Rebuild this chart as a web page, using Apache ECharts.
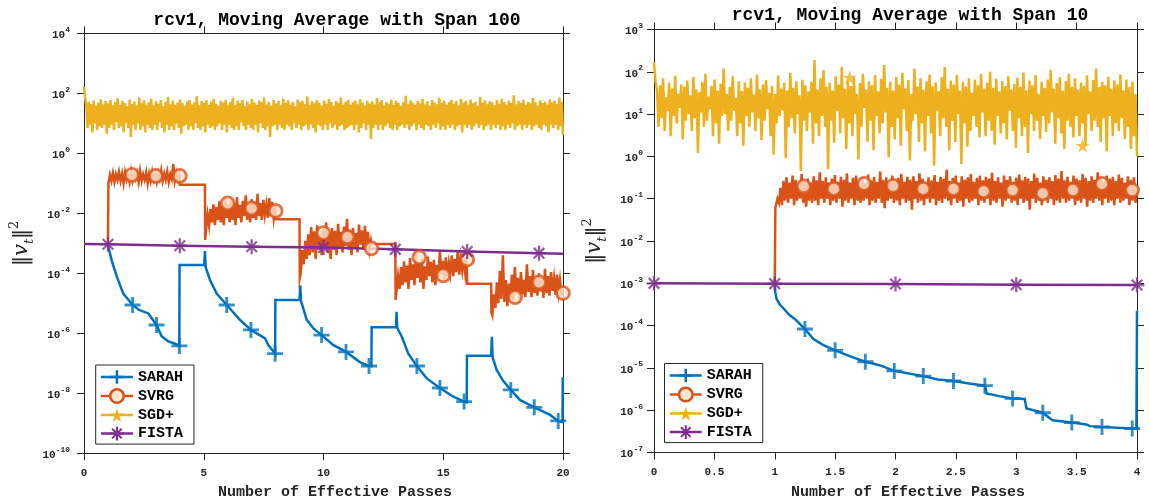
<!DOCTYPE html>
<html><head><meta charset="utf-8">
<script src="https://cdn.jsdelivr.net/npm/echarts@6.0.0/dist/echarts.min.js"></script>
<style>html,body{margin:0;padding:0;background:#fff}#c{width:1149px;height:502px}</style>
</head><body><div id="c"></div>
<script>
// ---------------- DATA ----------------
const seriesNames = ['SARAH', 'SVRG', 'SGD+', 'FISTA'];
const titleLeft = 'rcv1, Moving Average with Span 100';
const titleRight = 'rcv1, Moving Average with Span 10';
const xName = 'Number of Effective Passes';

// Left panel (span 100), x = effective passes 0..20
const sarahL = [[1.0,9e-4],[1.05,6e-4],[1.15,2.8e-4],[1.37,7.7e-5],[1.64,2.1e-5],[2.03,8.8e-6],[2.3,6e-6],[2.69,4.6e-6],[2.85,3e-6],[3.03,1.9e-6],[3.24,8e-7],[3.5,5.5e-7],[3.8,4.5e-7],[3.98,3.8e-7],[3.99,1.9e-4],[5.02,1.9e-4],[5.05,5.5e-4],[5.08,1.6e-4],[5.26,6e-5],[5.54,2.1e-5],[5.96,8.8e-6],[6.51,2.8e-6],[6.97,1.3e-6],[7.3,9e-7],[7.56,6.8e-7],[7.7,4e-7],[7.98,2.1e-7],[7.99,1.3e-5],[9.0,1.3e-5],[9.03,4e-5],[9.06,1.2e-5],[9.3,2.8e-6],[9.6,1.4e-6],[9.92,8.7e-7],[10.4,4.1e-7],[10.94,2.4e-7],[11.52,1.1e-7],[11.9,8.1e-8],[12.0,8e-8],[12.01,1.6e-6],[13.03,1.6e-6],[13.05,5.2e-6],[13.08,1.5e-6],[13.27,7.7e-7],[13.54,2.1e-7],[13.9,8.1e-8],[14.3,3.2e-8],[14.86,1.5e-8],[15.42,7.7e-9],[15.87,5.3e-9],[15.98,5e-9],[15.99,1.8e-7],[17.0,1.8e-7],[17.03,7.7e-7],[17.06,1.6e-7],[17.23,6e-8],[17.5,2.6e-8],[17.82,1.3e-8],[18.2,6e-9],[18.8,3.4e-9],[19.46,1.9e-9],[19.8,1.2e-9],[19.98,1.1e-9],[19.99,3.4e-8]];
const sarahLMarks = [[2.03,8.8e-6],[3.03,1.9e-6],[3.98,3.8e-7],[5.96,8.8e-6],[6.97,1.3e-6],[7.98,2.1e-7],[9.92,8.7e-7],[10.94,2.4e-7],[11.9,8.1e-8],[13.9,8.1e-8],[14.86,1.5e-8],[15.87,5.3e-9],[17.82,1.3e-8],[18.8,3.4e-9],[19.8,1.2e-9]];

// SVRG: step pieces plus noisy stretches
const svrgLSteps = [[1.0,9e-4],[4.0,0.09],[5.05,0.09],[5.06,1.3e-3],[8.0,6.3e-3],[9.0,6.3e-3],[9.01,7e-5],[12.0,9.5e-4],[13.0,9.5e-4],[13.01,1.3e-5],[16.0,4.5e-5],[17.0,4.5e-5],[17.01,5e-6]];
const svrgLNoise1 = [0.1,0.19,0.12,0.22,0.11,0.2,0.13,0.24,0.12,0.21,0.1,0.23,0.13,0.19,0.11,0.25,0.12,0.2,0.14,0.22,0.11,0.26,0.12,0.2,0.13,0.23,0.1,0.21,0.12,0.24,0.13,0.2,0.11,0.22,0.14,0.27,0.12,0.21,0.13,0.24,0.11,0.2,0.14,0.44,0.12,0.22,0.13,0.19];
const svrgLNoise2 = [0.003,0.009,0.004,0.014,0.005,0.02,0.004,0.016,0.006,0.025,0.005,0.018,0.004,0.03,0.007,0.02,0.005,0.028,0.006,0.022,0.004,0.035,0.007,0.019,0.005,0.026,0.008,0.04,0.006,0.021,0.005,0.03,0.007,0.024,0.006,0.045,0.008,0.022,0.006,0.028,0.009,0.02,0.007,0.032,0.008,0.024,0.007,0.018];
const svrgLNoise3 = [1e-4,6e-4,2e-4,1.2e-3,3e-4,2e-3,4e-4,3.5e-3,5e-4,2.5e-3,3e-4,4e-3,6e-4,2e-3,4e-4,3e-3,7e-4,5e-3,5e-4,2.2e-3,3e-4,3.2e-3,6e-4,2.6e-3,4e-4,4.5e-3,7e-4,2.4e-3,5e-4,3.6e-3,8e-4,6.5e-3,6e-4,2.8e-3,4e-4,3.3e-3,7e-4,2.2e-3,5e-4,4.2e-3,9e-4,2.7e-3,6e-4,3.8e-3,8e-4,2.4e-3,6e-4,1.2e-3];
const svrgLNoise4 = [1.5e-5,8e-5,3e-5,1.6e-4,4e-5,2.5e-4,5e-5,1.8e-4,3e-5,3.2e-4,6e-5,2e-4,4e-5,4.5e-4,7e-5,2.2e-4,5e-5,3e-4,3e-5,1.7e-4,6e-5,3.6e-4,8e-5,2.4e-4,5e-5,2.8e-4,4e-5,1.9e-4,7e-5,5.5e-4,9e-5,2.6e-4,6e-5,3.4e-4,8e-5,2.2e-4,1e-4,4e-4,8e-5,3e-4,1.1e-4,6e-4,9e-5,3.2e-4,1.2e-4,2.8e-4,1e-4,3.5e-4];
const svrgLNoise5 = [4e-6,2e-5,7e-6,5e-5,1e-5,1.2e-4,1.4e-5,4e-4,1.1e-5,6e-5,8e-6,4.5e-5,1.6e-5,9e-5,1.2e-5,1.6e-4,2e-5,7e-5,1.4e-5,1.1e-4,2e-5,6e-5,1.6e-5,2e-4,2.4e-5,8e-5,1.6e-5,1.3e-4,2.2e-5,6.5e-5,1.8e-5,1e-4,2.5e-5,7e-5,1.5e-5,1.4e-4,2.2e-5,8e-5,1.8e-5,1.1e-4,2.6e-5,7e-5,1.9e-5,9e-5,2.3e-5,6e-5,2e-5,3e-5];
const svrgLNoiseRanges = [[1.02,3.98],[5.1,7.98],[9.05,11.98],[13.05,15.98],[17.05,20.0]];
const svrgLMarks = [[2,0.19],[3,0.176],[4,0.176],[6,0.0215],[7,0.0147],[8,0.012],[10,2.2e-3],[11,1.6e-3],[12,6.8e-4],[14,3.4e-4],[15,8.5e-5],[16,2.9e-4],[18,1.6e-5],[19,5e-5],[20,2.2e-5]];

const sgdLRange = [0, 20];
const sgdL = [
165,70,35,7,52,9,44,5,58,10,38,6,49,8,63,7,42,9,55,4.5,
46,7,60,9,40,6,51,11,68,7,41,8,56,5,47,10,37,7,62,3.5,
44,9,53,6,39,10,72,6,46,8,58,5,42,9,50,7,65,6,40,9,
54,6,45,11,59,7,37,5,51,9,75,6,43,8,57,6,41,10,49,7,
62,4.5,46,8,38,9,53,6,60,8,42,6,50,10,80,7,40,6,56,8,
47,5,58,9,41,7,52,8,66,6,45,8,38,10,55,6,48,9,61,5,
42,9,51,7,70,6,40,8,56,6,46,11,59,8,37,6,53,9,43,7,
64,6,48,9,41,5,57,10,50,7,74,6,42,8,52,3.5,38,8,60,9,
46,6,55,9,40,7,67,6,47,9,58,8,42,6,51,10,37,7,62,9,
50,6,56,8,43,9,78,6,41,9,54,7,46,5,59,9,48,8,39,6,
57,9,45,6,64,10,51,7,38,9,55,6,47,8,72,9,42,6,52,7,
60,8,41,9,50,6,57,9,43,5,63,7,48,10,39,6,56,9,46,3,
54,7,42,9,69,6,50,9,59,6,39,8,51,10,45,7,61,6,41,9,
56,6,47,8,38,9,52,7,82,9,43,6,58,8,48,10,41,6,55,9,
46,7,64,6,42,9,54,8,38,6,60,9,49,7,43,10,71,6,47,8,
57,6,41,9,51,7,59,9,45,6,55,8,39,9,66,5,48,9,56,7,
42,9,62,6,46,8,52,10,38,7,75,9,48,6,58,8,43,9,54,6,
50,9,40,7,59,9,45,6,65,8,51,6,42,9,56,7,47,10,85,6,
43,8,55,9,48,6,61,9,41,7,52,9,46,6,69,8,50,9,39,7,
58,6,47,9,53,8,42,5,63,9,50,7,56,9,44,6,72,8,51,4];

const fistaL = [[0,9.5e-4],[1,9.3e-4],[4,8.3e-4],[7,7.7e-4],[10,7.2e-4],[13,6.3e-4],[16,5.3e-4],[19,4.7e-4],[20,4.5e-4]];
const fistaLMarks = [[1,9.3e-4],[4,8.3e-4],[7,7.7e-4],[10,7.2e-4],[13,6.3e-4],[16,5.3e-4],[19,4.7e-4]];

// Right panel (span 10), x = 0..4
const sarahR = [[1.0,9.5e-4],[1.005,6e-4],[1.015,4.3e-4],[1.04,3.2e-4],[1.075,2.5e-4],[1.12,1.8e-4],[1.17,1.4e-4],[1.25,8.3e-5],[1.32,4.8e-5],[1.4,3.5e-5],[1.5,2.6e-5],[1.62,1.9e-5],[1.75,1.4e-5],[1.82,1.25e-5],[1.89,1.1e-5],[1.99,8.5e-6],[2.1,7.5e-6],[2.23,6.4e-6],[2.35,5.3e-6],[2.48,4.9e-6],[2.61,4.3e-6],[2.74,3.8e-6],[2.755,2.5e-6],[2.86,2.15e-6],[2.97,1.9e-6],[3.07,1.85e-6],[3.085,1.1e-6],[3.22,8.7e-7],[3.3,5.8e-7],[3.46,5.1e-7],[3.58,4.6e-7],[3.61,4.2e-7],[3.71,4e-7],[3.96,3.7e-7],[3.995,3.7e-7],[4.0,2.2e-4]];
const sarahRMarks = [[1.25,8.3e-5],[1.5,2.6e-5],[1.75,1.4e-5],[1.99,8.5e-6],[2.23,6.4e-6],[2.48,4.9e-6],[2.74,3.8e-6],[2.97,1.9e-6],[3.22,8.7e-7],[3.46,5.1e-7],[3.71,4e-7],[3.96,3.7e-7]];

const svrgRSteps = [[1.0,9e-4],[1.005,0.06]];
const svrgRRange = [1.01, 4.0];
const svrgR = [
0.07,0.1,0.08,0.18,0.07,0.26,0.09,0.32,0.08,0.24,0.1,0.35,0.07,0.28,0.09,0.22,0.1,0.38,0.08,0.25,
0.065,0.3,0.09,0.24,0.08,0.34,0.09,0.27,0.07,0.42,0.1,0.26,0.08,0.32,0.1,0.24,0.07,0.3,0.09,0.36,
0.08,0.25,0.1,0.33,0.065,0.28,0.09,0.4,0.08,0.24,0.1,0.31,0.07,0.35,0.09,0.26,0.08,0.32,0.09,0.23,
0.1,0.37,0.07,0.27,0.09,0.33,0.08,0.25,0.1,0.44,0.08,0.28,0.06,0.32,0.09,0.24,0.1,0.35,0.08,0.26,
0.09,0.31,0.07,0.38,0.1,0.25,0.08,0.33,0.09,0.28,0.055,0.34,0.1,0.26,0.08,0.4,0.09,0.3,0.07,0.24,
0.1,0.32,0.08,0.27,0.1,0.36,0.07,0.25,0.09,0.33,0.08,0.3,0.1,0.48,0.09,0.26,0.07,0.31,0.1,0.35,
0.08,0.24,0.09,0.34,0.065,0.28,0.1,0.32,0.08,0.38,0.09,0.25,0.1,0.31,0.07,0.35,0.09,0.27,0.08,0.33,
0.1,0.3,0.07,0.41,0.09,0.26,0.08,0.32,0.1,0.24,0.065,0.35,0.09,0.28,0.1,0.34,0.08,0.25,0.09,0.31,
0.07,0.37,0.1,0.27,0.08,0.33,0.09,0.3,0.055,0.26,0.1,0.39,0.08,0.31,0.09,0.24,0.07,0.34,0.1,0.28,
0.08,0.32,0.1,0.26,0.07,0.36,0.09,0.3,0.08,0.45,0.1,0.27,0.08,0.33,0.09,0.25,0.1,0.35,0.07,0.3,
0.09,0.27,0.08,0.38,0.1,0.31,0.065,0.26,0.09,0.34,0.08,0.28,0.1,0.42,0.09,0.32,0.07,0.25,0.1,0.35,
0.08,0.3,0.09,0.33,0.07,0.26,0.1,0.37,0.08,0.31,0.09,0.24,0.1,0.34,0.07,0.28,0.09,0.32,0.08,0.16];
const svrgRMarks = [[1.24,0.195],[1.49,0.17],[1.74,0.225],[1.98,0.2],[2.23,0.17],[2.48,0.17],[2.73,0.15],[2.97,0.16],[3.22,0.133],[3.47,0.16],[3.71,0.225],[3.96,0.16]];

const sgdRRange = [0, 4];
const sgdR = [
170,60,35,5,48,8,70,4,25,12,55,3,40,9,80,6,30,14,50,2.5,
45,7,62,10,28,4,75,8,38,1.2,33,11,58,5,90,7,26,13,47,3,
66,6,36,2,52,9,120,10,30,4,44,7,78,12,24,3,60,6,35,1.8,
56,9,42,5,70,11,29,4,86,8,38,2.4,50,7,64,13,32,3,46,1.1,
30,6,82,9,40,12,55,0.9,36,5,95,8,42,3.5,60,10,28,0.45,65,7,
48,4,34,11,58,2,190,6,38,3,70,9,110,5,44,0.5,56,7,36,2.1,
78,12,50,3.5,130,8,40,1.5,62,6,46,3,74,10,30,0.85,54,5,90,14,
38,2.2,60,7,48,1.4,84,9,34,3.5,68,6,145,11,42,0.95,58,5,36,2.5,
76,8,50,1.8,95,13,40,4,64,0.8,30,7,120,10,45,2.2,70,6,38,1.3,
60,9,86,3.5,46,0.6,56,12,35,3,75,8,130,5,40,1.4,62,7,50,2.2,
84,10,36,0.65,58,6,45,1.7,70,4,32,9,66,5,48,2.8,88,11,40,3,
55,7,100,4,42,1.9,68,9,34,3.5,60,6,46,2.5,78,12,38,4,52,1.6,
72,8,44,3,95,5,36,1.2,62,10,48,4,84,7,30,2.6,58,9,42,3.8,
66,6,110,11,40,2,54,8,74,3.5,36,1.5,60,7,90,5,44,2.8,70,9,
38,3,56,6,46,1.8,82,10,34,4,64,7,120,5,42,2.2,58,8,48,1.3,
76,9,40,3,62,6,50,4,86,8,36,2.6,66,5,44,1.5,58,3,30,1.0];
const sgdRMarks = [[1.62,74],[3.55,1.8],[3.71,40]];

const fistaR = [[0,1e-3],[1,9.8e-4],[2,9.6e-4],[3,9.3e-4],[4,9.1e-4]];
const fistaRMarks = [[0,1e-3],[1,9.8e-4],[2,9.6e-4],[3,9.3e-4],[4,9.1e-4]];

// ---------------- STYLE ----------------
const COL = {SARAH:'#0072BD', SVRG:'#D95319', 'SGD+':'#EDB120', FISTA:'#7E2F8E'};
const AX = '#262626';
const MONO = "'Liberation Mono', 'DejaVu Sans Mono', monospace";
const SYM = {
  SARAH: 'path://M-1.8,-10L1.8,-10L1.8,-1.8L10,-1.8L10,1.8L1.8,1.8L1.8,10L-1.8,10L-1.8,1.8L-10,1.8L-10,-1.8L-1.8,-1.8Z',
  SVRG: 'circle',
  'SGD+': 'path://M0,-10L2.25,-3.09L9.51,-3.09L3.63,1.18L5.88,8.09L0,3.82L-5.88,8.09L-3.63,1.18L-9.51,-3.09L-2.25,-3.09Z',
  FISTA: 'path://M-1.5,-10L1.5,-10L1.5,10L-1.5,10ZM-10,-1.5L10,-1.5L10,1.5L-10,1.5ZM-5.99,-8.1L8.1,5.99L5.99,8.1L-8.1,-5.99ZM-8.1,5.99L5.99,-8.1L8.1,-5.99L-5.99,8.1Z'
};

function onGrid(range, vals) {
  const n = vals.length;
  return vals.map((v, i) => [range[0] + i * (range[1] - range[0]) / (n - 1), v]);
}
function merge(parts) {
  return [].concat(...parts).sort((a, b) => a[0] - b[0]);
}

const svrgLNoise = [svrgLNoise1, svrgLNoise2, svrgLNoise3, svrgLNoise4, svrgLNoise5];
const svrgLPath = merge([svrgLSteps].concat(svrgLNoise.map((v, k) => onGrid(svrgLNoiseRanges[k], v))));
const svrgRPath = merge([svrgRSteps, onGrid(svrgRRange, svrgR)]);

function lineS(name, data, ax) {
  return {
    type: 'line', name, data, xAxisIndex: ax, yAxisIndex: ax,
    symbol: SYM[name], showSymbol: false, smooth: false,
    lineStyle: {color: COL[name], width: 2.5, join: 'miter'}, itemStyle: {color: COL[name]},
    emphasis: {disabled: true}, silent: true, z: 2
  };
}
function markS(name, data, ax, size) {
  const isCircle = name === 'SVRG';
  return {
    type: 'scatter', name, data, xAxisIndex: ax, yAxisIndex: ax,
    symbol: SYM[name], symbolSize: size,
    itemStyle: isCircle ? {color: '#fbe6cf', borderColor: COL[name], borderWidth: 2.8} : {color: COL[name]},
    emphasis: {disabled: true}, silent: true, z: 3
  };
}

const LEFT = 0, RIGHT = 2;
const series = [
  lineS('SARAH', sarahL, LEFT), markS('SARAH', sarahLMarks, LEFT, 16),
  lineS('SVRG', svrgLPath, LEFT), markS('SVRG', svrgLMarks, LEFT, 13),
  lineS('SGD+', onGrid(sgdLRange, sgdL), LEFT),
  lineS('FISTA', fistaL, LEFT), markS('FISTA', fistaLMarks, LEFT, 15),
  lineS('SARAH', sarahR, RIGHT), markS('SARAH', sarahRMarks, RIGHT, 16),
  lineS('SVRG', svrgRPath, RIGHT), markS('SVRG', svrgRMarks, RIGHT, 13),
  lineS('SGD+', onGrid(sgdRRange, sgdR), RIGHT), markS('SGD+', sgdRMarks, RIGHT, 14),
  lineS('FISTA', fistaR, RIGHT), markS('FISTA', fistaRMarks, RIGHT, 15)
];

const tickLbl = {fontFamily: MONO, fontWeight: 'bold', fontSize: 11, color: AX};
const axLine = {onZero: false, lineStyle: {color: AX, width: 1}};
const axTick = {inside: false, length: 7, lineStyle: {color: AX, width: 1}};

function xAx(grid, min, max, interval, pos, showLabel) {
  return {type: 'value', gridIndex: grid, min, max, interval, position: pos,
    axisLine: axLine, axisTick: axTick, splitLine: {show: false},
    axisLabel: Object.assign({show: showLabel, margin: 14}, tickLbl)};
}
function logLabel(margin) {
  return {
    margin,
    formatter: v => '{b|10}{e|' + Math.round(Math.log10(v)) + '}',
    rich: {
      b: {fontFamily: MONO, fontWeight: 'bold', fontSize: 11, color: AX, verticalAlign: 'bottom', lineHeight: 15},
      e: {fontFamily: MONO, fontWeight: 'bold', fontSize: 8, color: AX, verticalAlign: 'top', lineHeight: 15}
    }
  };
}
const yNameStyle = {
  rich: {
    n: {fontFamily: 'DejaVu Serif', fontSize: 20, color: AX, lineHeight: 28},
    v: {fontFamily: 'DejaVu Serif', fontStyle: 'italic', fontSize: 21, color: AX, lineHeight: 28},
    t: {fontFamily: 'DejaVu Serif', fontStyle: 'italic', fontSize: 13, color: AX, verticalAlign: 'bottom', lineHeight: 26},
    s: {fontFamily: 'DejaVu Serif', fontSize: 13, color: AX, verticalAlign: 'top', lineHeight: 26}
  }
};
const yName = '{n|‖}{v|v}{t|t}{n|‖}{s|2}';
function yAx(grid, min, max, interval, pos, showLabel, margin, gap) {
  const a = {type: 'log', logBase: 10, gridIndex: grid, min, max, interval, position: pos,
    axisLine: axLine, axisTick: axTick, splitLine: {show: false}, minorTick: {show: false},
    axisLabel: showLabel ? logLabel(margin) : {show: false}};
  if (showLabel) {
    a.name = yName; a.nameLocation = 'middle'; a.nameRotate = 90; a.nameGap = gap;
    a.nameTextStyle = yNameStyle;
  }
  return a;
}

function legend(left, top) {
  return {
    left, top, orient: 'vertical', selectedMode: false,
    itemWidth: 32, itemHeight: 17, itemGap: 3.5,
    padding: [4.5, 11, 3, 4],
    borderColor: AX, borderWidth: 1, backgroundColor: '#fff',
    lineStyle: {width: 2.5},
    textStyle: {fontFamily: MONO, fontWeight: 'bold', fontSize: 15, color: '#000', lineHeight: 14},
    data: [
      {name: 'SARAH', itemStyle: {borderWidth: 0}},
      {name: 'SVRG', itemStyle: {color: '#fbe6cf', borderColor: COL.SVRG, borderWidth: 2.5}},
      {name: 'SGD+', itemStyle: {borderWidth: 0}},
      {name: 'FISTA', itemStyle: {borderWidth: 0}}
    ]
  };
}

const titleStyle = {fontFamily: MONO, fontWeight: 'bold', fontSize: 18, color: '#000'};
const xNameStyle = {fontFamily: MONO, fontWeight: 'bold', fontSize: 15, color: AX};

const option = {
  animation: false,
  backgroundColor: '#fff',
  title: [
    {text: titleLeft, left: 337, top: 11.5, textAlign: 'center', padding: 0, textStyle: titleStyle},
    {text: titleRight, left: 910, top: 6.5, textAlign: 'center', padding: 0, textStyle: titleStyle},
    {text: xName, left: 335, top: 485, textAlign: 'center', padding: 0, textStyle: xNameStyle},
    {text: xName, left: 908, top: 485, textAlign: 'center', padding: 0, textStyle: xNameStyle}
  ],
  grid: [
    {left: 84, top: 33.3, width: 479, height: 420},
    {left: 654, top: 29.5, width: 483, height: 423}
  ],
  xAxis: [
    xAx(0, 0, 20, 5, 'bottom', true), xAx(0, 0, 20, 5, 'top', false),
    xAx(1, 0, 4, 0.5, 'bottom', true), xAx(1, 0, 4, 0.5, 'top', false)
  ],
  yAxis: [
    yAx(0, 1e-10, 1e4, 2, 'left', true, 14, 48), yAx(0, 1e-10, 1e4, 2, 'right', false),
    yAx(1, 1e-7, 1e3, 1, 'left', true, 11, 45), yAx(1, 1e-7, 1e3, 1, 'right', false)
  ],
  legend: [legend(95.7, 365), legend(664.5, 363.5)],
  series
};

const chart = echarts.init(document.getElementById('c'), null, {renderer: 'canvas'});
chart.setOption(option);
</script></body></html>
